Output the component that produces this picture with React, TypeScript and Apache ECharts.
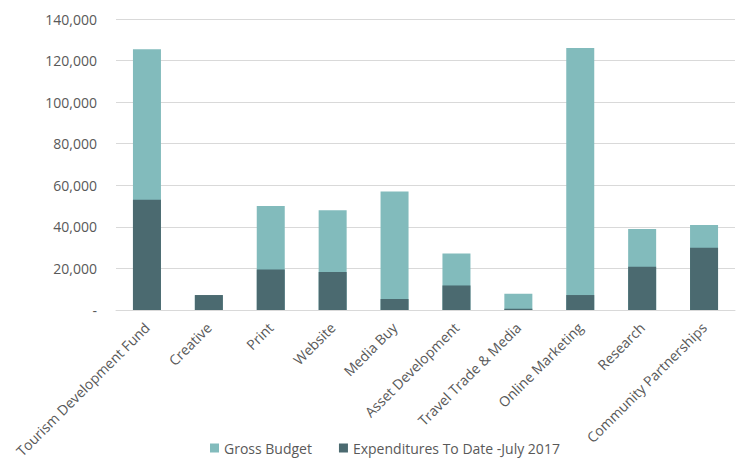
import React, { useEffect, useRef } from "react";
import * as echarts from "echarts";

const categories = [
  "Tourism Development Fund",
  "Creative",
  "Print",
  "Website",
  "Media Buy",
  "Asset Development",
  "Travel Trade & Media",
  "Online Marketing",
  "Research",
  "Community Partnerships",
];
const grossBudget = [125400, 7000, 50000, 48000, 57000, 27200, 7800, 126000, 39000, 40900];
const expenditures = [53000, 7200, 19500, 18300, 5300, 11800, 600, 7200, 20800, 30000];
const yTicks = [0, 20000, 40000, 60000, 80000, 100000, 120000, 140000];

const FONT = "Open Sans";
const TEXT = "#595959";

export default function App() {
  const ref = useRef<HTMLDivElement>(null);
  useEffect(() => {
    if (!ref.current) return;
    const chart = echarts.init(ref.current, undefined, { renderer: "svg" });
    chart.setOption({
      animation: false,
      grid: { left: 116, right: 3, top: 19, bottom: 151, containLabel: false },
      legend: {
        left: 208,
        top: 437,
        padding: 2,
        icon: "rect",
        itemWidth: 9,
        itemHeight: 9,
        itemGap: 27,
        textStyle: { fontFamily: FONT, fontSize: 14, color: TEXT, lineHeight: 18 },
        data: ["Gross Budget", "Expenditures To Date -July 2017"],
      },
      xAxis: {
        type: "category",
        data: categories,
        axisTick: { show: false },
        axisLine: { lineStyle: { color: "#D9D9D9", width: 1 } },
        axisLabel: {
          rotate: 45,
          interval: 0,
          margin: 15,
          fontFamily: FONT,
          fontSize: 14,
          color: TEXT,
        },
      },
      yAxis: {
        type: "value",
        min: yTicks[0],
        max: yTicks[yTicks.length - 1],
        interval: 20000,
        axisLine: { show: false },
        axisTick: { show: false },
        splitLine: { lineStyle: { color: "#D9D9D9", width: 1 } },
        axisLabel: {
          margin: 19,
          fontFamily: FONT,
          fontSize: 14,
          color: TEXT,
          formatter: (v: number) => (v === 0 ? "-" : v.toLocaleString("en-US")),
        },
      },
      series: [
        {
          name: "Gross Budget",
          type: "bar",
          data: grossBudget,
          barWidth: 28,
          barGap: "-100%",
          itemStyle: { color: "#82BBBC" },
        },
        {
          name: "Expenditures To Date -July 2017",
          type: "bar",
          data: expenditures,
          barWidth: 28,
          barGap: "-100%",
          itemStyle: { color: "#4B6A70" },
        },
      ],
    });
    return () => chart.dispose();
  }, []);
  return <div ref={ref} style={{ width: 738, height: 461, position: "absolute", left: 0, top: 0 }} />;
}
